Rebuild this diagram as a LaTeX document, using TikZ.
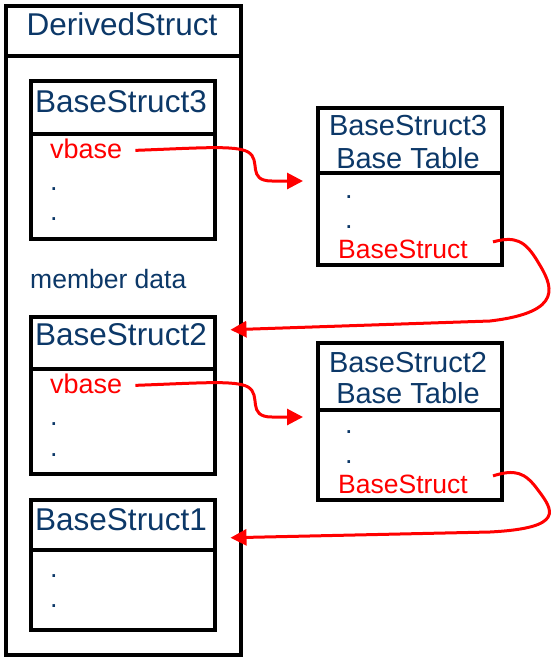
\documentclass[tikz,border=0pt]{standalone}
\usepackage{fontspec}
\setmainfont{Liberation Sans}
\usetikzlibrary{arrows.meta,calc}
\definecolor{navy}{RGB}{12,56,104}
\definecolor{ptr}{RGB}{255,0,0}
\begin{document}
\begin{tikzpicture}[x=1pt,y=-1pt,
  frame/.style={draw=black, line width=3.5pt, inner sep=0pt, anchor=north west, fill=white},
  big/.style={font=\fontsize{31.5}{36}\selectfont, text=navy, inner sep=0pt},
  tbl/.style={font=\fontsize{29}{34}\selectfont, text=navy, inner sep=0pt, anchor=base},
  field/.style={font=\fontsize{27}{32}\selectfont, text=ptr, inner sep=0pt, anchor=base west},
  dots/.style={font=\fontsize{27}{32}\selectfont, text=navy, inner sep=0pt, anchor=base west},
  note/.style={font=\fontsize{26.5}{32}\selectfont, text=navy, inner sep=0pt, anchor=base west},
  ptrarrow/.style={draw=ptr, line width=3pt, -{Triangle[length=16pt,width=16pt]}}]
\useasboundingbox (0,0) rectangle (555,657);

% DerivedStruct container
\node[frame, minimum width=235pt, minimum height=50pt] (dtitle) at (4,4) {};
\node[frame, minimum width=235pt, minimum height=599pt] (dbody) at (4,54) {};
\node[big, anchor=base] (dname) at (122,35) {DerivedStruct};

% BaseStruct3 sub-object
\node[frame, minimum width=184pt, minimum height=53pt] (bs3h) at (29,79) {};
\node[frame, minimum width=184pt, minimum height=105pt] (bs3b) at (29,132) {};
\node[big, anchor=base west] (bs3n) at (35,112) {BaseStruct3};
\node[field] (vb3) at (50,158) {vbase};
\node[dots] (bs3d1) at (50,190) {.};
\node[dots] (bs3d2) at (50,220) {.};

\node[note] (mdata) at (30,288) {member data};

% BaseStruct2 sub-object
\node[frame, minimum width=184pt, minimum height=52pt] (bs2h) at (29,315) {};
\node[frame, minimum width=184pt, minimum height=105pt] (bs2b) at (29,367) {};
\node[big, anchor=base west] (bs2n) at (35,345) {BaseStruct2};
\node[field] (vb2) at (50,393) {vbase};
\node[dots] (bs2d1) at (50,425) {.};
\node[dots] (bs2d2) at (50,456) {.};

% BaseStruct1 sub-object
\node[frame, minimum width=184pt, minimum height=50pt] (bs1h) at (29,498) {};
\node[frame, minimum width=184pt, minimum height=80pt] (bs1b) at (29,548) {};
\node[big, anchor=base west] (bs1n) at (35,530) {BaseStruct1};
\node[dots] (bs1d1) at (50,577) {.};
\node[dots] (bs1d2) at (50,607) {.};

% BaseStruct3 base table
\node[frame, minimum width=184pt, minimum height=65pt] (t3h) at (316,106) {};
\node[frame, minimum width=184pt, minimum height=92pt] (t3b) at (316,171) {};
\node[tbl] (t3n1) at (408,135) {BaseStruct3};
\node[tbl] (t3n2) at (408,168) {Base Table};
\node[dots] (t3d1) at (345,198) {.};
\node[dots] (t3d2) at (345,228) {.};
\node[field, font=\fontsize{26.5}{32}\selectfont] (bsr3) at (338,258) {BaseStruct};

% BaseStruct2 base table
\node[frame, minimum width=184pt, minimum height=67pt] (t2h) at (316,341) {};
\node[frame, minimum width=184pt, minimum height=90pt] (t2b) at (316,408) {};
\node[tbl] (t2n1) at (408,372) {BaseStruct2};
\node[tbl] (t2n2) at (408,403) {Base Table};
\node[dots] (t2d1) at (345,433) {.};
\node[dots] (t2d2) at (345,463) {.};
\node[field, font=\fontsize{26.5}{32}\selectfont] (bsr2) at (338,493) {BaseStruct};

% vbase pointers to the base tables
\draw[ptrarrow] ($(vb3.east)+(13,2)$) .. controls (200,148) and (236,145) .. (248,152)
  .. controls (262,160) and (246,181) .. (272,181) -- ($(t3b.north west)+(-13,10)$);
\draw[ptrarrow] ($(vb2.east)+(13,2)$) .. controls (200,383) and (236,380) .. (248,387)
  .. controls (262,395) and (246,417) .. (272,417) -- ($(t2b.north west)+(-13,9)$);

% base table entries back to the sub-objects
\draw[ptrarrow] ($(bsr3.east)+(25,-7)$) .. controls (515,236) and (525,240) .. (538,262)
  .. controls (552,285) and (566,312) .. (490,321) -- ($(bs2h.east)+(14,-13)$);
\draw[ptrarrow] ($(bsr2.east)+(25,-8)$) .. controls (515,469) and (525,472) .. (538,490)
  .. controls (553,510) and (566,528) .. (490,532) -- ($(bs1h.east)+(14,13)$);
\end{tikzpicture}
\end{document}
